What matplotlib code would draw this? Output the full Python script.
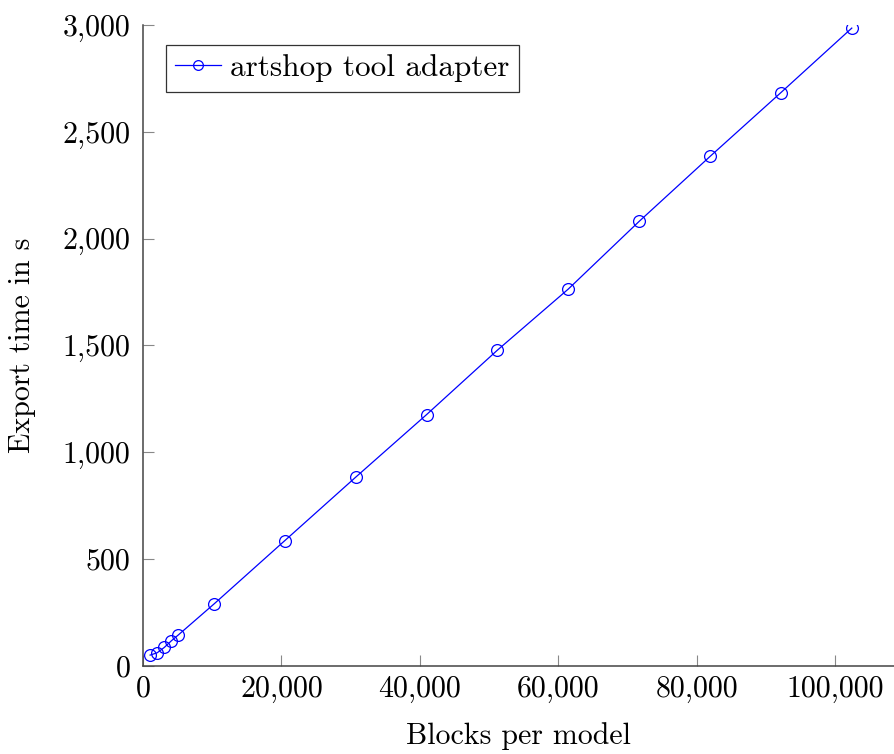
import matplotlib
matplotlib.use("Agg")
import matplotlib.pyplot as plt
import matplotlib.ticker as ticker

# Export timings per model size.
blocks = [1024, 2048, 3072, 4096, 5120, 10240, 20480, 30720, 40960,
          51200, 61440, 71680, 81920, 92160, 102400]
export_seconds = [50, 61, 86, 117, 145, 289, 586, 883, 1176,
                  1478, 1764, 2081, 2385, 2684, 2986]
series_label = "artshop tool adapter"

plt.rcParams["font.family"] = ["cmr10", "DejaVu Serif"]
plt.rcParams["axes.formatter.use_mathtext"] = True
plt.rcParams["font.size"] = 21.5

fig = plt.figure(figsize=(8.94, 7.54), dpi=100)
ax = fig.add_axes([0.16, 0.117, 0.84, 0.8497])

ax.plot(blocks, export_seconds, color="blue", linewidth=0.9,
        marker="o", markersize=8.5, markerfacecolor="none",
        markeredgecolor="blue", markeredgewidth=0.9, label=series_label)

ax.set_xlim(0, 108500)
ax.set_ylim(0, 3000)
ax.xaxis.set_major_locator(ticker.MultipleLocator(20000))
ax.yaxis.set_major_locator(ticker.MultipleLocator(500))
comma_fmt = ticker.FuncFormatter(lambda v, pos: "{:,.0f}".format(v))
ax.xaxis.set_major_formatter(comma_fmt)
ax.yaxis.set_major_formatter(comma_fmt)

# Left/bottom axis lines only, ticks pointing inward.
for side in ("top", "right"):
    ax.spines[side].set_visible(False)
for side in ("left", "bottom"):
    ax.spines[side].set_color("#444444")
    ax.spines[side].set_linewidth(1.1)
ax.tick_params(direction="in", length=8, width=0.8, color="#888888",
               labelsize=21.5, top=False, right=False)
ax.tick_params(axis="y", pad=9)
ax.tick_params(axis="x", pad=7)

ax.set_xlabel("Blocks per model", fontsize=21.5, labelpad=14)
ax.set_ylabel("Export time in s", fontsize=21.5, labelpad=19)

leg = ax.legend(loc="upper left", bbox_to_anchor=(0.0306, 0.969),
                frameon=True, fancybox=False, edgecolor="black",
                fontsize=22.5, handlelength=1.45, handletextpad=0.3,
                borderpad=0.3, borderaxespad=0.0)
leg.get_frame().set_linewidth(0.9)
leg.legend_handles[0].set_markersize(7)

fig.savefig("out.png", dpi=100)
